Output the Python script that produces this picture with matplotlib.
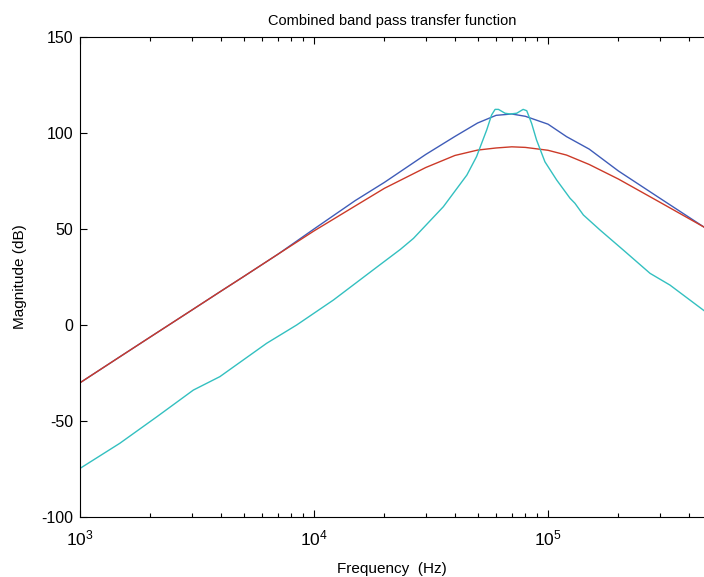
#!/usr/bin/env python3
"""Combined band pass transfer function: magnitude response (3 curves)."""
import matplotlib

matplotlib.use("Agg")
import matplotlib.pyplot as plt
from matplotlib.ticker import LogLocator, MultipleLocator, NullFormatter

plt.rcParams["font.family"] = ["Liberation Sans", "DejaVu Sans"]
plt.rcParams["axes.unicode_minus"] = False

# blue / red share one frequency grid (Hz), values in dB
freq = [1000, 1500, 2000, 3000, 4000, 5000, 7000, 10000, 15000, 20000, 30000,
        40000, 50000, 60000, 70000, 80000, 100000, 120000, 150000, 200000,
        300000, 464000]
mag_blue = [-30.1, -16.1, -6.2, 7.7, 17.6, 25.2, 36.8, 50.0, 64.8, 74.3, 88.8,
            98.2, 105.2, 109.2, 109.9, 108.7, 104.6, 98.1, 91.6, 80.2, 66.1, 51.0]
mag_red = [-30.1, -16.1, -6.2, 7.7, 17.6, 25.2, 36.8, 49.0, 62.0, 71.2, 82.0,
           88.3, 91.1, 92.2, 92.8, 92.5, 91.0, 88.5, 83.6, 76.0, 64.0, 51.0]

# cyan curve (narrow peak with double hump)
freq_cyan = [1000, 1480, 2130, 3050, 3960, 6280, 8430, 12100, 19100, 23400,
             26600, 35700, 45000, 49500, 54700, 57400, 59400, 61400, 65500,
             68900, 73500, 78300, 81100, 85100, 89300, 97000, 108900, 124200,
             130300, 141600, 166700, 209900, 272900, 331900, 464000]
mag_cyan = [-74.7, -61.6, -47.8, -33.9, -26.9, -9.5, 0.0, 13.0, 31.3, 39.4,
            45.1, 61.6, 78.1, 87.7, 101.6, 109.4, 112.3, 112.3, 110.3, 109.9,
            110.3, 112.3, 111.6, 105.0, 96.4, 85.0, 75.5, 66.0, 63.4, 57.3,
            49.5, 39.0, 26.9, 20.8, 7.5]


def main():
    fig = plt.figure(figsize=(7.04, 5.77), dpi=100)
    ax = fig.add_axes([80 / 704, 60 / 577, 1 - 80 / 704, 480 / 577])

    ax.semilogx(freq, mag_blue, color="#3f5cb8", lw=1.0)
    ax.semilogx(freq, mag_red, color="#cc3a28", lw=1.0)
    ax.semilogx(freq_cyan, mag_cyan, color="#33c0c0", lw=1.0)

    ax.set_xlim(1000, 464000)
    ax.set_ylim(-100, 150)
    ax.yaxis.set_major_locator(MultipleLocator(50))
    ax.xaxis.set_major_locator(LogLocator(base=10))
    ax.xaxis.set_minor_locator(LogLocator(base=10, subs=range(2, 10)))
    ax.xaxis.set_minor_formatter(NullFormatter())

    ax.spines["right"].set_visible(False)
    ax.tick_params(which="both", direction="in", top=True, right=False,
                   labelsize=11.5, width=0.8)
    ax.tick_params(which="major", length=5, pad=5)
    ax.tick_params(axis="x", which="major", labelsize=12.5, pad=8)
    ax.tick_params(which="minor", length=3)

    ax.set_title("Combined band pass transfer function", fontsize=10.5, pad=9)
    ax.set_xlabel("Frequency  (Hz)", fontsize=11, labelpad=10)
    ax.set_ylabel("Magnitude (dB)", fontsize=11, labelpad=10)

    fig.savefig("out.png", dpi=100)
    plt.close(fig)


if __name__ == "__main__":
    main()
